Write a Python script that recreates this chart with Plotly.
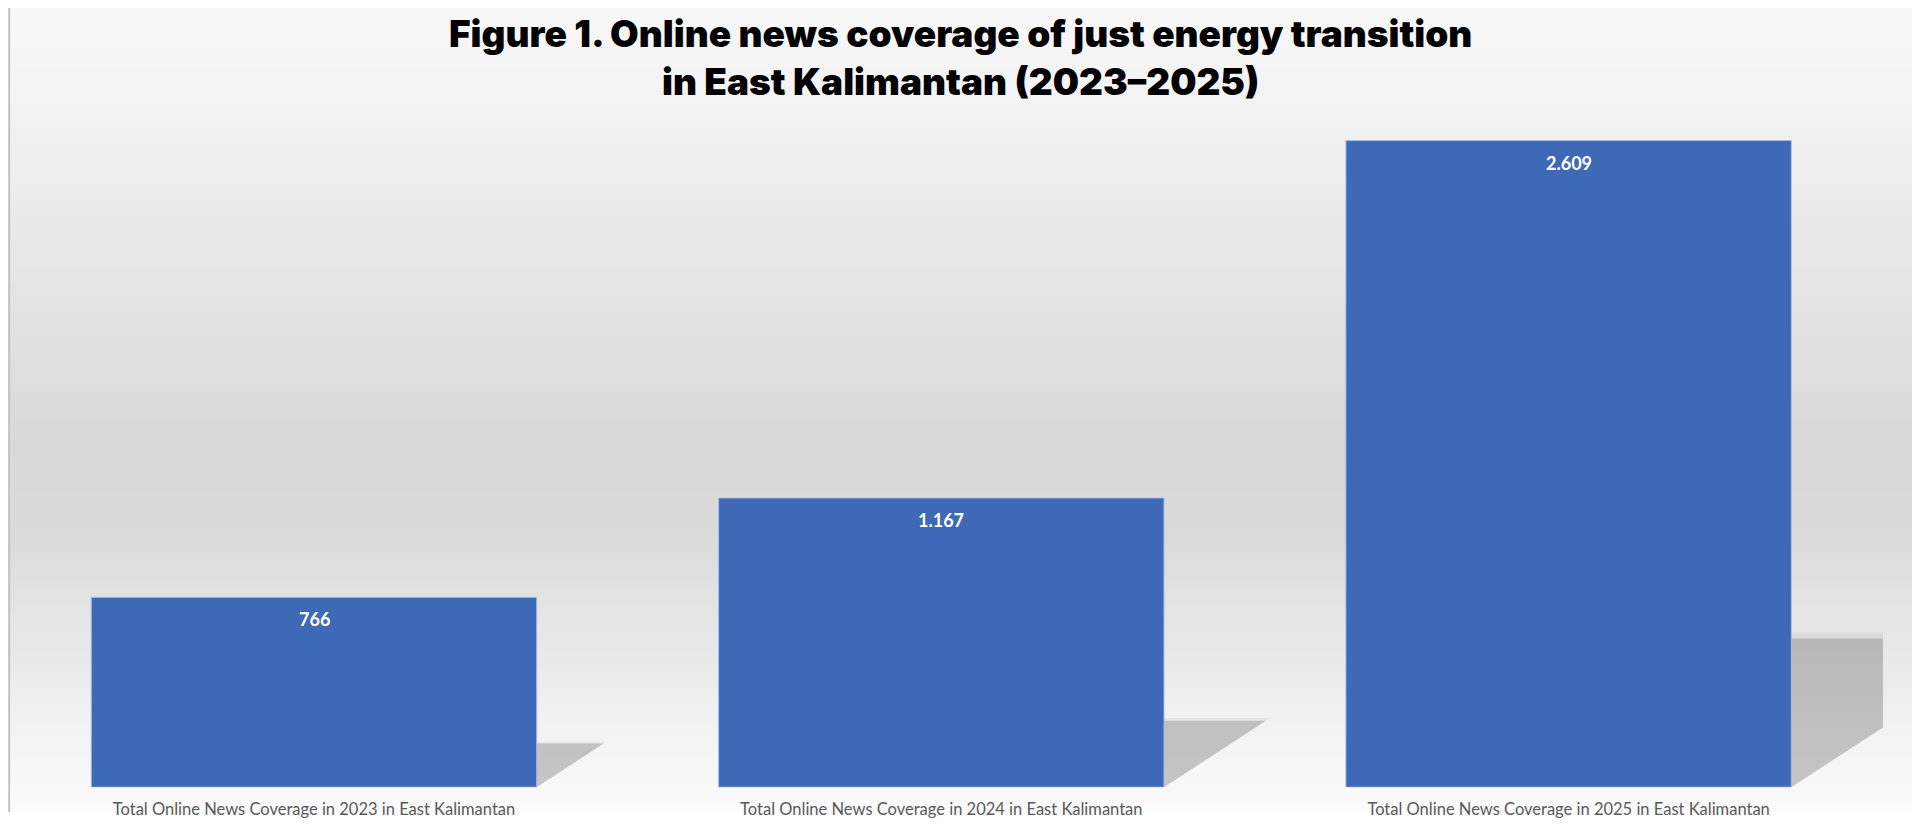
import plotly.graph_objects as go

# the page body adds an 8px margin, so the figure is 16px smaller than the window
W, H = 1904, 811

categories = [
    "Total Online News Coverage in 2023 in East Kalimantan",
    "Total Online News Coverage in 2024 in East Kalimantan",
    "Total Online News Coverage in 2025 in East Kalimantan",
]
values = [766, 1167, 2609]
title_text = ("Figure 1. Online news coverage of just energy transition"
              "<br>in East Kalimantan (2023–2025)")

BAR_W = 0.71
PX_PER_CAT = 627.3
X0_PX = 306          # pixel position of first category centre
X_END_PX = 1875      # right edge of the plot area (shadows are clipped here)
Y0_PX = 786
TOP_PX = 86
PX_PER_UNIT = 0.25

fig = go.Figure()
fig.add_trace(go.Bar(
    x=list(range(len(categories))),
    y=values,
    width=BAR_W,
    marker=dict(color="#3E69B7", line=dict(color="rgba(170,190,230,0.9)", width=1)),
    hoverinfo="skip",
))

shapes = []
# background vertical gradient (light -> gray -> light)
stops = [(0.0, 248), (0.15, 241), (0.55, 216), (0.66, 219), (1.0, 252)]
def gray_at(f):
    for (f0, g0), (f1, g1) in zip(stops[:-1], stops[1:]):
        if f0 <= f <= f1:
            return g0 + (g1 - g0) * (f - f0) / (f1 - f0)
    return stops[-1][1]
N = 90
for k in range(N):
    f = (k + 0.5) / N
    g = int(round(gray_at(f)))
    shapes.append(dict(type="rect", xref="paper", yref="paper", x0=0, x1=1,
                       y0=1 - (k + 1) / N - 0.001, y1=1 - k / N + 0.001,
                       fillcolor=f"rgb({g},{g},{g})", line=dict(width=0), layer="below"))
# left border
shapes.append(dict(type="line", xref="paper", yref="paper", x0=0.0006, x1=0.0006, y0=0, y1=1,
                   line=dict(color="#c4c4c4", width=2), layer="below"))
# perspective shadows derived from the bar values (sheared, squashed copy of each bar)
SHADOW_H = 0.23
SHEAR = 1.52
for i, v in enumerate(values):
    xl, xr = i - BAR_W / 2, i + BAR_W / 2
    h = SHADOW_H * v
    s = SHEAR * h * PX_PER_UNIT / PX_PER_CAT
    for grow, alpha in ((0.04, 0.05), (0.0, 0.16)):
        hh = h * (1 + grow)
        ss = s * (1 + grow)
        shapes.append(dict(type="path", xref="x", yref="y",
                           path=f"M {xl},0 L {xr},0 L {xr + ss},{hh} L {xl + ss},{hh} Z",
                           fillcolor=f"rgba(0,0,0,{alpha})", line=dict(width=0), layer="below"))

annotations = []
for i, v in enumerate(values):
    annotations.append(dict(x=i, y=v, xref="x", yref="y",
                            text=f"{v:,}".replace(",", "."), showarrow=False,
                            yanchor="middle", yshift=-22,
                            font=dict(family="Lato", size=18, color="white", weight="bold")))
annotations.append(dict(x=0.5, y=1 - 50 / H, xref="paper", yref="paper",
                        xanchor="center", yanchor="middle", showarrow=False,
                        text=title_text, align="center",
                        font=dict(family="Inter", size=37, color="black", weight=900)))

fig.update_layout(
    width=W, height=H,
    margin=dict(l=0, r=0, t=0, b=0),
    paper_bgcolor="white",
    plot_bgcolor="rgba(0,0,0,0)",
    showlegend=False,
    bargap=1 - BAR_W,
    xaxis=dict(domain=[0, X_END_PX / W],
               range=[-X0_PX / PX_PER_CAT, (X_END_PX - X0_PX) / PX_PER_CAT],
               tickmode="array", tickvals=list(range(len(categories))), ticktext=categories,
               showgrid=False, zeroline=False, showline=False,
               ticks="outside", ticklen=7, tickcolor="rgba(0,0,0,0)",
               tickfont=dict(family="Lato", size=16.5, color="#595959")),
    yaxis=dict(domain=[(H - Y0_PX) / H, (H - TOP_PX) / H],
               range=[0, (Y0_PX - TOP_PX) / PX_PER_UNIT],
               visible=False, showgrid=False, zeroline=False),
    shapes=shapes,
    annotations=annotations,
)

fig.write_html("out.html")
